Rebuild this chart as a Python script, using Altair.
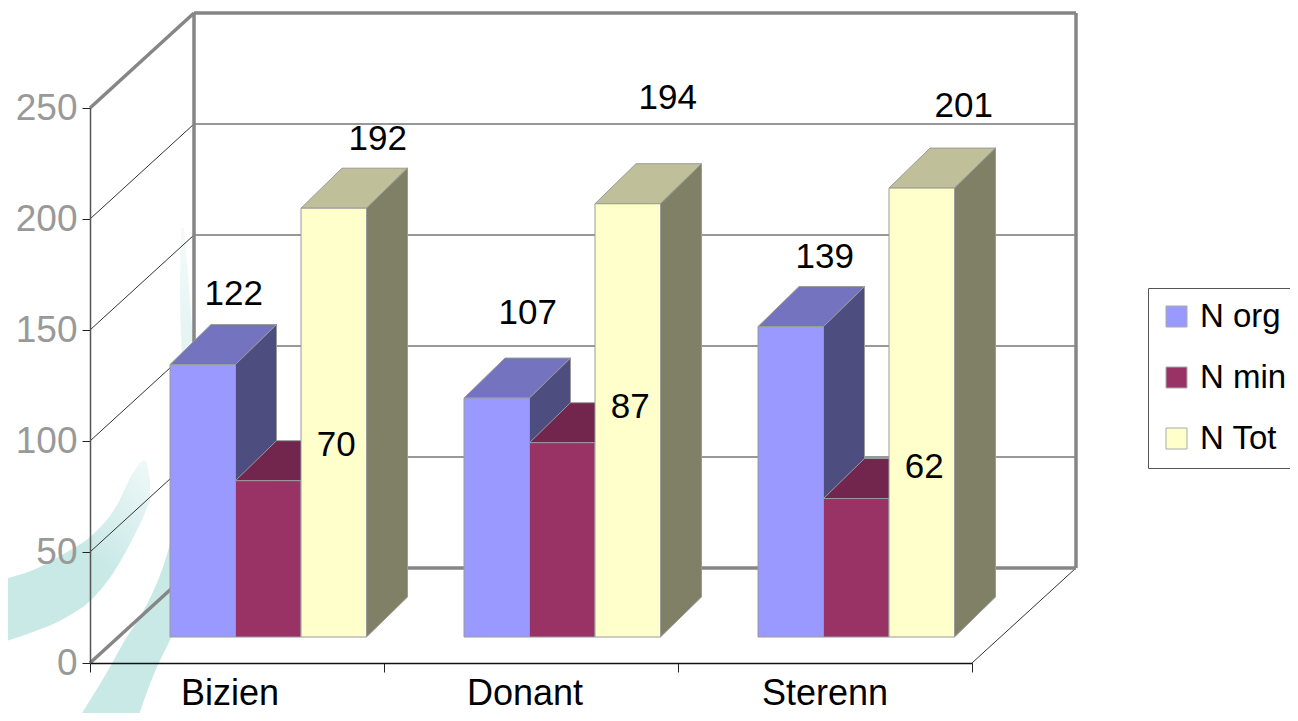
import altair as alt
import pandas as pd

# ---- chart values
CATEGORIES = ["Bizien", "Donant", "Sterenn"]
SERIES = ["N org", "N min", "N Tot"]
N_ORG = [122, 107, 139]
N_MIN = [70, 87, 62]
N_TOT = [192, 194, 201]
Y_TICKS = [0, 50, 100, 150, 200, 250]

# ---- colours
FRONT = ["#9999FF", "#993366", "#FFFFCC"]
TOP = ["#7373BF", "#73264D", "#BFBF99"]
SIDE = ["#4D4D80", "#4D1A33", "#808066"]

# ---- projection of the fake 3D box (px per axis unit, then depths)
PX_U, PX_V = 294.0, 2.22
def du(px): return px / PX_U
def dv(px): return px / PX_V

WALL_DU, WALL_DV = du(104), dv(95)
BAR_DU, BAR_DV = du(41), dv(40)
BAR_FIRST = du(80)
BAR_W = du(65.5)
BAR_BASE = dv(26)
BAR_SCALE = 1.006

# label shift from the top centre of the bar, per series and category (px)
LABEL_SHIFT = {
    "N org": [(31, 71), (31, 85), (34, 70)],
    "N min": [(68, 36), (68, 36), (68, 32)],
    "N Tot": [(44, 69), (40, 106), (42, 82)],
}
CATEGORY_LABEL_PX = [(140, 31), (435, 31), (735, 31)]

XS = alt.Scale(domain=[0, 3], nice=False, zero=False)
YS = alt.Scale(domain=[0, 250], nice=False, zero=False)
XAXIS = alt.Axis(values=[0, 1, 2, 3], labels=False, title=None, tickSize=9,
                 tickColor="#222222", domainColor="#111111", domainWidth=1.5, grid=False, zindex=1)
YAXIS = alt.Axis(values=Y_TICKS, title=None, tickSize=8, tickColor="#222222",
                 domainColor="#555555", domainWidth=1.5, grid=False,
                 labelFont="Liberation Sans", labelFontSize=37, labelColor="#999999",
                 labelPadding=5, zindex=1)
X = lambda f: alt.X(f, type="quantitative", scale=XS, axis=XAXIS)
Y = lambda f: alt.Y(f, type="quantitative", scale=YS, axis=YAXIS, stack=None)

values = [N_ORG, N_MIN, N_TOT]
fronts, tops, sides, labels = [], [], [], []
for s, name in enumerate(SERIES):
    for c, cat in enumerate(CATEGORIES):
        l = c + BAR_FIRST + s * BAR_W
        r = l + BAR_W
        b = BAR_BASE
        t = BAR_BASE + values[s][c] * BAR_SCALE
        fronts.append(dict(series=name, l=l, r=r, b=b, t=t))
        key = f"{name}-{cat}"
        tops += [
            dict(series=name, k=key, y=t, x1=l, x2=r),
            dict(series=name, k=key, y=t + BAR_DV, x1=l + BAR_DU, x2=r + BAR_DU),
        ]
        sides += [
            dict(series=name, k=key, x=r, y1=t, y2=b),
            dict(series=name, k=key, x=r + BAR_DU, y1=t + BAR_DV, y2=b + BAR_DV),
        ]
        sx, sy = LABEL_SHIFT[name][c]
        labels.append(dict(x=(l + r) / 2 + du(sx), y=t + dv(sy), text=str(values[s][c])))
fronts, tops, sides, labels = map(pd.DataFrame, (fronts, tops, sides, labels))

# ---- walls
def seg_rows(segs):
    rows = []
    for i, ((x0, y0), (x1, y1)) in enumerate(segs):
        rows += [dict(k=i, o=0, x=x0, y=y0), dict(k=i, o=1, x=x1, y=y1)]
    return pd.DataFrame(rows)

def lines(segs, color, width):
    return alt.Chart(seg_rows(segs)).mark_line(color=color, strokeWidth=width, clip=False).encode(
        x=X("x"), y=Y("y"), detail="k:N", order="o:Q")

grid = [t for t in Y_TICKS if 0 < t < 250]
thin = []
for t in grid:
    thin.append(((0, t), (WALL_DU, t + WALL_DV)))
    thin.append(((WALL_DU, t + WALL_DV), (3 + WALL_DU, t + WALL_DV)))
thin.append(((3, 0), (3 + WALL_DU, WALL_DV)))
thick = [
    ((0, 0), (WALL_DU, WALL_DV)),
    ((0, 250), (WALL_DU, 250 + WALL_DV)),
    ((WALL_DU, 250 + WALL_DV), (3 + WALL_DU, 250 + WALL_DV)),
    ((WALL_DU, WALL_DV), (3 + WALL_DU, WALL_DV)),
    ((WALL_DU, WALL_DV), (WALL_DU, 250 + WALL_DV)),
    ((3 + WALL_DU, WALL_DV), (3 + WALL_DU, 250 + WALL_DV)),
]

# ---- pale background swooshes of the original slide (page px)
def ux(px): return (px - 90) / PX_U
def uy(px): return (663 - px) / PX_V
SWOOSH_A = [(0, 580, 643), (33, 570, 632), (67, 552, 617), (90, 537, 601),
            (117, 505, 567), (133, 473, 538), (145, 460, 513), (150, 480, 500)]
SWOOSH_B = [(228, 181, 184), (300, 180, 190), (367, 182, 194), (500, 177, 194),
            (567, 163, 190), (617, 140, 180), (640, 125, 170), (667, 110, 157), (721, 77, 137)]
swoosh_a = pd.DataFrame([dict(x=ux(x), y1=uy(a), y2=uy(b)) for x, a, b in SWOOSH_A])
swoosh_b = pd.DataFrame([dict(y=uy(y), x1=ux(a), x2=ux(b)) for y, a, b in SWOOSH_B])
TEAL = "#C9E9E7"
fade_a = alt.Gradient(gradient="linear", x1=1, y1=0, x2=0.6, y2=0.5,
                      stops=[alt.GradientStop(color="#F0F9F8", offset=0), alt.GradientStop(color=TEAL, offset=1)])
fade_b = alt.Gradient(gradient="linear", x1=0, y1=0, x2=0, y2=0.6,
                      stops=[alt.GradientStop(color="#F4FBFA", offset=0), alt.GradientStop(color=TEAL, offset=1)])

layers = [
    alt.Chart(swoosh_a).mark_area(color=fade_a, clip=False, interpolate="monotone").encode(x=X("x"), y=Y("y1"), y2="y2"),
    alt.Chart(swoosh_b).mark_area(color=fade_b, orient="horizontal", clip=False, interpolate="monotone").encode(y=Y("y"), x=X("x1"), x2="x2"),
    lines(thin, "#333333", 1),
    lines(thick, "#868686", 3.5),
]

for s, name in enumerate(SERIES):
    layers += [
        alt.Chart(tops[tops.series == name]).mark_area(
            orient="horizontal", color=TOP[s], stroke="#9a9a9a", strokeWidth=1, clip=False
        ).encode(y=Y("y"), x=X("x1"), x2="x2", detail="k:N"),
        alt.Chart(sides[sides.series == name]).mark_area(
            color=SIDE[s], stroke="#9a9a9a", strokeWidth=1, clip=False
        ).encode(x=X("x"), y=Y("y1"), y2="y2", detail="k:N"),
        alt.Chart(fronts[fronts.series == name]).mark_rect(
            stroke="#9a9a9a", strokeWidth=1, clip=False
        ).encode(
            x=X("l"), x2="r", y=Y("b"), y2="t",
            color=alt.Color("series:N", title=None,
                            scale=alt.Scale(domain=SERIES, range=FRONT),
                            legend=alt.Legend(orient="none", legendX=1058, legendY=180, padding=12,
                                              fillColor="white", strokeColor="#555555",
                                              labelFont="Liberation Sans", labelFontSize=33, labelColor="#000000",
                                              labelOffset=7, rowPadding=27, symbolType="square", symbolSize=441,
                                              symbolStrokeColor="#aaaaaa", symbolStrokeWidth=1,
                                              labelLimit=400)),
        ),
    ]

layers.append(
    alt.Chart(labels).mark_text(font="Liberation Sans", fontSize=35, color="#000000", baseline="middle", clip=False)
    .encode(x=X("x"), y=Y("y"), text="text:N")
)
cat_labels = pd.DataFrame([
    dict(x=du(px), y=-dv(py), text=c) for c, (px, py) in zip(CATEGORIES, CATEGORY_LABEL_PX)
])
layers.append(
    alt.Chart(cat_labels).mark_text(font="Liberation Sans", fontSize=36, color="#000000", baseline="middle", clip=False)
    .encode(x=X("x"), y=Y("y"), text="text:N")
)

chart = alt.layer(*layers).resolve_scale(color="shared").properties(
    width=882, height=555,
    padding={"left": 82, "top": 100, "right": 318, "bottom": 50},
    autosize=alt.AutoSizeParams(type="none"),
    background="white",
).configure_view(stroke=None)

chart.save("out.html", embed_options={"renderer": "svg", "actions": False})
